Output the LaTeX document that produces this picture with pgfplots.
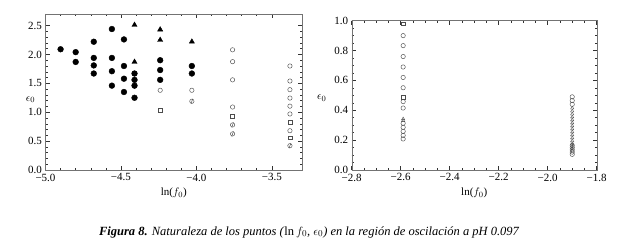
\documentclass[border=0pt]{standalone}
\usepackage{fontspec}
\setmainfont{Liberation Serif}
\usepackage{pgfplots}
\pgfplotsset{compat=1.18}
\usetikzlibrary{plotmarks}
\begin{document}
\begin{tikzpicture}
\path (0pt,0pt) rectangle (630pt,249pt);
\pgfplotsset{
  myax/.style={
    scale only axis,
    anchor=south west,
    axis line style={black!55},
    tick align=inside,
    tick pos=both,
    major tick length=4pt,
    minor tick length=2pt,
    every tick/.style={black!80, line width=0.5pt},
    tick label style={font=\fontsize{11}{13}\selectfont},
    yticklabel style={inner ysep=0pt},
    xticklabel style={inner ysep=0pt, yshift=-3.5pt},
    label style={font=\fontsize{11}{13}\selectfont},
    clip=false,
  },
  fc/.style={only marks, mark=*, mark size=2.9pt, mark options={fill=black, draw=black}},
  ft/.style={only marks, mark=triangle*, mark size=3pt, mark options={fill=black, draw=black}},
  oc/.style={only marks, mark=o, mark size=2.2pt, mark options={draw=black!70, line width=0.45pt}},
  os/.style={only marks, mark=square, mark size=1.9pt, mark options={draw=black!70, line width=0.45pt}},
  ot/.style={only marks, mark=triangle, mark size=1.9pt, mark options={draw=black!70, line width=0.4pt}},
  sl/.style={only marks, mark=|, mark size=2.6pt, mark options={draw=black!75, line width=0.45pt, rotate=-20}},
}
\begin{axis}[myax,
  at={(45.5pt,79pt)}, width=256.5pt, height=156pt,
  xmin=-5, xmax=-3.3, ymin=0, ymax=2.7,
  xtick={-5,-4.5,-4,-3.5}, xticklabels={−5.0,−4.5,−4.0,−3.5},
  ytick={0,0.5,1,1.5,2,2.5}, yticklabels={0.0,0.5,1.0,1.5,2.0,2.5},
  minor x tick num=4, minor y tick num=4,
  xlabel={ln($f_0$)}, ylabel={$\epsilon_0$},
  xlabel style={at={(axis description cs:0.5,0)}, anchor=center, yshift=-23pt},
  ylabel style={at={(axis description cs:0,0.45)}, anchor=center, rotate=-90, xshift=-15pt},
]
\addplot[fc] coordinates {(-4.90,2.09) (-4.80,2.04) (-4.80,1.87) (-4.68,2.22) (-4.68,1.94) (-4.68,1.81) (-4.68,1.67) (-4.56,2.44) (-4.56,1.94) (-4.56,1.71) (-4.56,1.46) (-4.48,2.26) (-4.48,1.80) (-4.48,1.58) (-4.48,1.35) (-4.41,1.67) (-4.41,1.56) (-4.41,1.46) (-4.41,1.25) (-4.24,1.90) (-4.24,1.73) (-4.24,1.56) (-4.03,1.80) (-4.03,1.67)};
\addplot[ft] coordinates {(-4.41,2.51) (-4.41,1.87) (-4.24,2.43) (-4.24,2.25) (-4.03,2.22)};
\addplot[oc] coordinates {(-4.24,1.38) (-4.03,1.38) (-3.76,2.08) (-3.76,1.875) (-3.76,1.56) (-3.76,1.09) (-3.38,1.80) (-3.38,1.54) (-3.38,1.39) (-3.38,1.245) (-3.38,1.105) (-3.38,0.97) (-3.38,0.68)};
\addplot[os] coordinates {(-4.24,1.04) (-3.76,0.93) (-3.38,0.83) (-3.38,0.56)};
\addplot[oc] coordinates {(-4.03,1.19) (-3.76,0.78) (-3.76,0.625) (-3.38,0.42)};
\addplot[sl] coordinates {(-4.03,1.19) (-3.76,0.78) (-3.76,0.625) (-3.38,0.42)};
\end{axis}
\begin{axis}[myax,
  at={(351.7pt,79pt)}, width=245pt, height=149.3pt,
  xmin=-2.8, xmax=-1.8, ymin=0, ymax=1,
  xtick={-2.8,-2.6,-2.4,-2.2,-2,-1.8}, xticklabels={−2.8,−2.6,−2.4,−2.2,−2.0,−1.8},
  ytick={0,0.2,0.4,0.6,0.8,1}, yticklabels={0.0,0.2,0.4,0.6,0.8,1.0},
  minor x tick num=3, minor y tick num=3,
  xlabel={ln($f_0$)}, ylabel={$\epsilon_0$},
  xlabel style={at={(axis description cs:0.5,0)}, anchor=center, yshift=-23pt},
  ylabel style={at={(axis description cs:0,0.48)}, anchor=center, rotate=-90, xshift=-30pt},
]
\addplot[os] coordinates {(-2.59,0.98) (-2.59,0.49)};
\addplot[oc] coordinates {(-2.59,0.90) (-2.59,0.833) (-2.59,0.76) (-2.59,0.69) (-2.59,0.62) (-2.59,0.551) (-2.59,0.458) (-2.59,0.415) (-2.59,0.313) (-2.59,0.286) (-2.59,0.259) (-2.59,0.232) (-2.59,0.208) (-1.9,0.49) (-1.9,0.465) (-1.9,0.44)};
\addplot[ot] coordinates {(-2.59,0.342) (-2.59,0.330) (-1.9,0.415) (-1.9,0.395) (-1.9,0.375) (-1.9,0.355) (-1.9,0.335) (-1.9,0.315) (-1.9,0.295) (-1.9,0.275) (-1.9,0.255) (-1.9,0.235) (-1.9,0.215) (-1.9,0.195) (-1.9,0.175)};
\addplot[oc] coordinates {(-1.9,0.165) (-1.9,0.150) (-1.9,0.135) (-1.9,0.120) (-1.9,0.105)};
\addplot[sl] coordinates {(-1.9,0.165) (-1.9,0.150) (-1.9,0.135)};
\end{axis}
\node[font=\fontsize{12.5}{14}\selectfont\itshape] at (309pt,17pt) {\textbf{Figura 8.} Naturaleza de los puntos (\textup{ln}\,$f_0$, $\epsilon_0$) en la región de oscilación a pH 0.097};
\end{tikzpicture}
\end{document}
